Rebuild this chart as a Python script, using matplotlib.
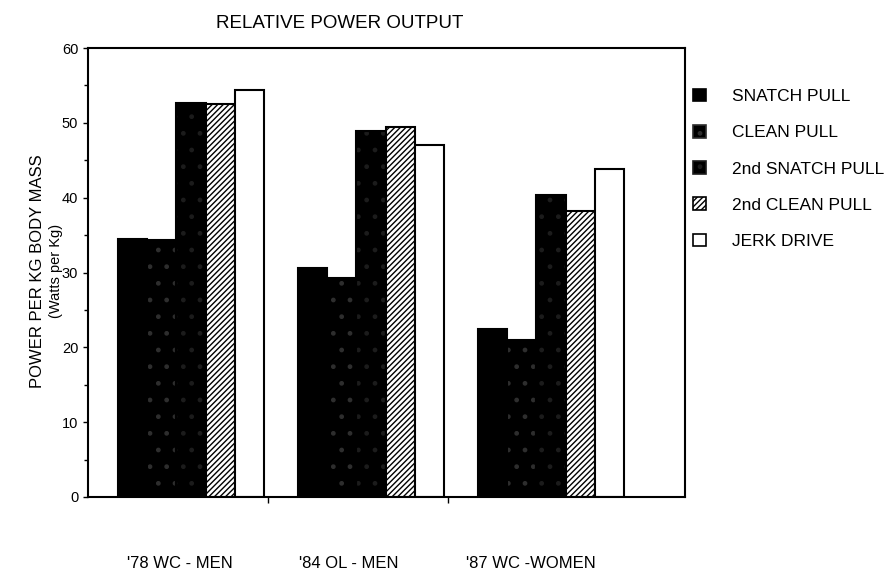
import matplotlib
matplotlib.use("Agg")
import matplotlib.pyplot as plt
import numpy as np
from matplotlib.patches import Patch

plt.rcParams['font.family'] = ['Liberation Sans', 'DejaVu Sans']

groups = ["'78 WC - MEN", "'84 OL - MEN", "'87 WC -WOMEN"]
series = ["SNATCH PULL", "CLEAN PULL", "2nd SNATCH PULL", "2nd CLEAN PULL", "JERK DRIVE"]
snatch_pull = [34.5, 30.6, 22.5]
clean_pull = [34.3, 29.3, 21.0]
snatch_pull_2 = [52.7, 48.9, 40.3]
clean_pull_2 = [52.5, 49.5, 38.2]
jerk_drive = [54.4, 47.0, 43.8]
values = [snatch_pull, clean_pull, snatch_pull_2, clean_pull_2, jerk_drive]
yticks = [0, 10, 20, 30, 40, 50, 60]

styles = [
    dict(face='black', hatch=None, hc=None),
    dict(face='black', hatch='.', hc='#2e2e2e'),
    dict(face='black', hatch='.', hc='#1c1c1c'),
    dict(face='white', hatch='//////', hc='black'),
    dict(face='white', hatch=None, hc=None),
]

fig = plt.figure(figsize=(8.94, 5.80), dpi=100)
ax = fig.add_axes([88/894, 1-497/580, (685-88)/894, (497-48)/580])

centers = np.arange(len(groups)) + 0.572
w = 0.162
for i, (vals, st) in enumerate(zip(values, styles)):
    x = centers + (i - 2) * w
    if st['hatch']:
        ax.bar(x, vals, w, color=st['face'], edgecolor=st['hc'], hatch=st['hatch'], linewidth=0)
        ax.bar(x, vals, w, fill=False, edgecolor='black', linewidth=1.5)
    else:
        ax.bar(x, vals, w, color=st['face'], edgecolor='black', linewidth=1.5)

ax.set_xlim(0, 597/180)
ax.set_ylim(0, 60)
ax.set_yticks(yticks)
ax.set_yticks(np.arange(0, 61, 5), minor=True)
ax.set_xticks([1, 2])
ax.set_xticklabels([])
ax.tick_params(axis='y', which='both', direction='out', labelsize=10.5, width=1)
ax.tick_params(axis='y', which='minor', length=3)
ax.tick_params(axis='x', direction='out', length=4, width=1)
for s in ax.spines.values():
    s.set_linewidth(1.5)

label_x = [0.51, 1.45, 2.46]
for lx, g in zip(label_x, groups):
    ax.text(lx, -(563-497)/7.48, g, ha='center', va='center', fontsize=12)

fig.text(340/894, 1-23/580, "RELATIVE POWER OUTPUT", ha='center', va='center', fontsize=13.5)
fig.text(38/894, 1-271/580, "POWER PER KG BODY MASS", rotation=90, ha='center', va='center', fontsize=12)
fig.text(56/894, 1-271/580, "(Watts per Kg)", rotation=90, ha='center', va='center', fontsize=10.5)

handles = []
for name, st in zip(series, styles):
    handles.append(Patch(facecolor=st['face'], edgecolor='black' if st['hatch'] is None or st['face'] == 'white' else st['hc'],
                         hatch=st['hatch'], linewidth=1.2, label=name))
fig.legend(handles=handles, loc='upper left', bbox_to_anchor=(677/894, 1-73/580), frameon=False,
           fontsize=12.5, handlelength=0.75, handleheight=0.75, labelspacing=1.2, handletextpad=1.5)

fig.savefig("out.png", dpi=100)
